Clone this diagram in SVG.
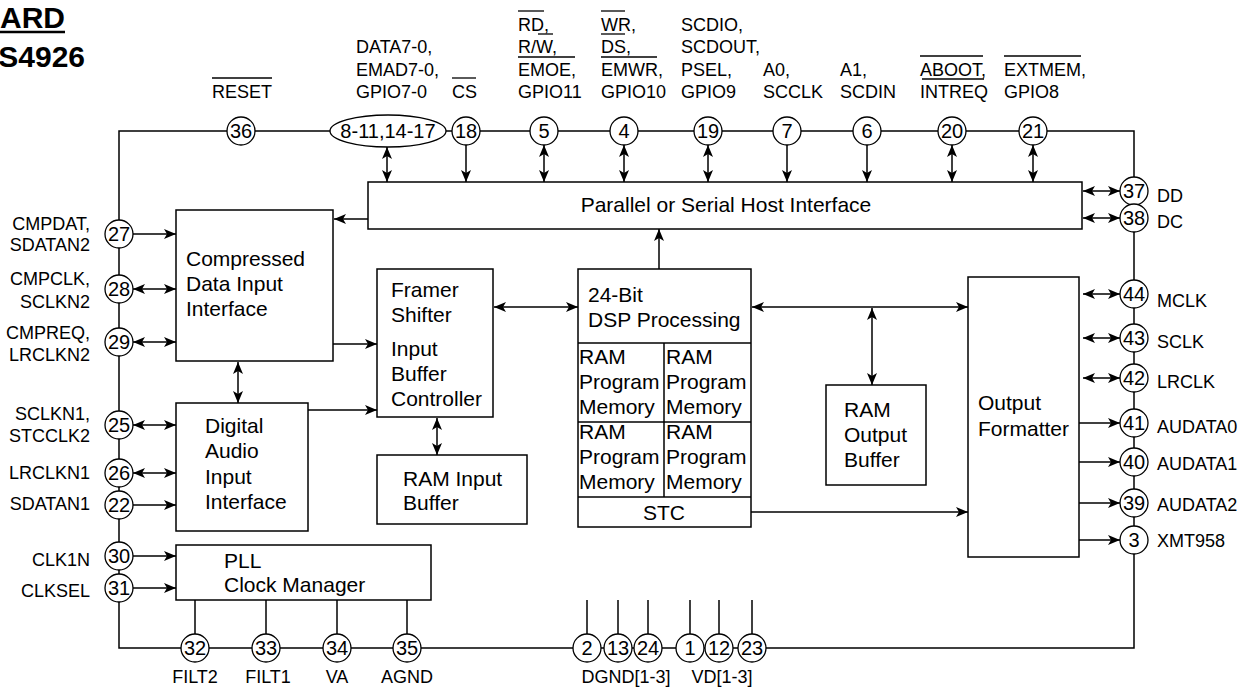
<svg xmlns="http://www.w3.org/2000/svg" width="1242" height="687" viewBox="0 0 1242 687">
<defs>
<marker id="ah" viewBox="0 0 12 10" refX="12" refY="5" markerWidth="12" markerHeight="10" markerUnits="userSpaceOnUse" orient="auto-start-reverse">
<path d="M0,0 L12,5 L0,10 L3,5 Z" fill="#000"/>
</marker>
<style>
text{font-family:"Liberation Sans",Arial,sans-serif;fill:#000}
.lbl{font-size:18px}
.blk{font-size:21px}
.num{font-size:20px;text-anchor:middle;dominant-baseline:central}
.ttl{font-size:30px;font-weight:bold;text-anchor:end}
.box{fill:#fff;stroke:#000;stroke-width:1.5}
.pin{fill:#fff;stroke:#000;stroke-width:1.3}
.w{stroke:#000;stroke-width:1.5;fill:none}
.one{marker-end:url(#ah)}
.two{marker-start:url(#ah);marker-end:url(#ah)}
.ov{stroke:#000;stroke-width:1.3}
.r{text-anchor:end}
.c{text-anchor:middle}
</style>
</defs>
<rect width="1242" height="687" fill="#fff"/>

<g id="title">
<text class="ttl" x="65" y="28">ARD</text>
<line x1="0" y1="32" x2="65" y2="32" stroke="#000" stroke-width="2.5"/>
<text class="ttl" x="85" y="67">S4926</text>
</g>

<g id="connectors">
<path class="w" d="M119,131 H1134 V648 H119 Z"/>
<line class="w two" x1="387" y1="147" x2="387" y2="182"/>
<line class="w one" x1="466" y1="145" x2="466" y2="182"/>
<line class="w two" x1="544" y1="145" x2="544" y2="182"/>
<line class="w two" x1="624" y1="145" x2="624" y2="182"/>
<line class="w two" x1="708" y1="145" x2="708" y2="182"/>
<line class="w one" x1="787" y1="145" x2="787" y2="182"/>
<line class="w one" x1="867" y1="145" x2="867" y2="182"/>
<line class="w two" x1="952" y1="145" x2="952" y2="182"/>
<line class="w two" x1="1033" y1="145" x2="1033" y2="182"/>
<line class="w two" x1="1083" y1="191" x2="1120" y2="191"/>
<line class="w two" x1="1083" y1="218" x2="1120" y2="218"/>
<line class="w one" x1="368" y1="219" x2="334" y2="219"/>
<line class="w one" x1="133" y1="234" x2="176" y2="234"/>
<line class="w two" x1="133" y1="289" x2="176" y2="289"/>
<line class="w two" x1="133" y1="342" x2="176" y2="342"/>
<line class="w two" x1="133" y1="425" x2="176" y2="425"/>
<line class="w two" x1="133" y1="473" x2="176" y2="473"/>
<line class="w one" x1="133" y1="505" x2="176" y2="505"/>
<line class="w one" x1="133" y1="556" x2="176" y2="556"/>
<line class="w one" x1="133" y1="588" x2="176" y2="588"/>
<line class="w two" x1="238" y1="362" x2="238" y2="403"/>
<line class="w one" x1="333" y1="344" x2="377" y2="344"/>
<line class="w one" x1="308" y1="410" x2="377" y2="410"/>
<line class="w two" x1="437" y1="418" x2="437" y2="455"/>
<line class="w two" x1="494" y1="307" x2="578" y2="307"/>
<line class="w one" x1="659" y1="269" x2="659" y2="229"/>
<line class="w two" x1="752" y1="307" x2="968" y2="307"/>
<line class="w two" x1="872" y1="308" x2="872" y2="385"/>
<line class="w one" x1="751" y1="512" x2="968" y2="512"/>
<line class="w two" x1="1083" y1="294" x2="1120" y2="294"/>
<line class="w two" x1="1083" y1="338" x2="1120" y2="338"/>
<line class="w two" x1="1083" y1="378" x2="1120" y2="378"/>
<line class="w one" x1="1079" y1="423" x2="1120" y2="423"/>
<line class="w one" x1="1079" y1="462" x2="1120" y2="462"/>
<line class="w one" x1="1079" y1="503" x2="1120" y2="503"/>
<line class="w one" x1="1079" y1="540" x2="1120" y2="540"/>
<line class="w" x1="195" y1="600" x2="195" y2="635"/>
<line class="w" x1="266" y1="600" x2="266" y2="635"/>
<line class="w" x1="337" y1="600" x2="337" y2="635"/>
<line class="w" x1="407" y1="600" x2="407" y2="635"/>
<line class="w" x1="587" y1="600" x2="587" y2="635"/>
<line class="w" x1="618" y1="600" x2="618" y2="635"/>
<line class="w" x1="648" y1="600" x2="648" y2="635"/>
<line class="w" x1="690" y1="600" x2="690" y2="635"/>
<line class="w" x1="719" y1="600" x2="719" y2="635"/>
<line class="w" x1="752" y1="600" x2="752" y2="635"/>
</g>

<g id="host">
<rect class="box" x="368" y="182" width="714" height="47"/>
<text class="blk c" x="726" y="212">Parallel or Serial Host Interface</text>
</g>
<g id="compressed">
<rect class="box" x="176" y="210" width="157" height="151"/>
<text class="blk" x="186" y="266">Compressed</text>
<text class="blk" x="186" y="291">Data Input</text>
<text class="blk" x="186" y="316">Interface</text>
</g>
<g id="digital">
<rect class="box" x="176" y="403" width="132" height="128"/>
<text class="blk" x="205" y="433">Digital</text>
<text class="blk" x="205" y="458">Audio</text>
<text class="blk" x="205" y="484">Input</text>
<text class="blk" x="205" y="509">Interface</text>
</g>
<g id="framer">
<rect class="box" x="377" y="269" width="116" height="148"/>
<text class="blk" x="391" y="297">Framer</text>
<text class="blk" x="391" y="322">Shifter</text>
<text class="blk" x="391" y="356">Input</text>
<text class="blk" x="391" y="381">Buffer</text>
<text class="blk" x="391" y="406">Controller</text>
</g>
<g id="raminput">
<rect class="box" x="377" y="455" width="150" height="69"/>
<text class="blk" x="403" y="486">RAM Input</text>
<text class="blk" x="403" y="510">Buffer</text>
</g>
<g id="dsp">
<rect class="box" x="578" y="269" width="173" height="258"/>
<line class="w" x1="578" y1="343" x2="751" y2="343"/>
<line class="w" x1="578" y1="422" x2="751" y2="422"/>
<line class="w" x1="578" y1="497" x2="751" y2="497"/>
<line class="w" x1="664" y1="343" x2="664" y2="497"/>
<text class="blk" x="588" y="302">24-Bit</text>
<text class="blk" x="588" y="327">DSP Processing</text>
<text class="blk" x="579" y="364">RAM</text>
<text class="blk" x="579" y="389">Program</text>
<text class="blk" x="579" y="414">Memory</text>
<text class="blk" x="666" y="364">RAM</text>
<text class="blk" x="666" y="389">Program</text>
<text class="blk" x="666" y="414">Memory</text>
<text class="blk" x="579" y="439">RAM</text>
<text class="blk" x="579" y="464">Program</text>
<text class="blk" x="579" y="489">Memory</text>
<text class="blk" x="666" y="439">RAM</text>
<text class="blk" x="666" y="464">Program</text>
<text class="blk" x="666" y="489">Memory</text>
<text class="blk c" x="664" y="520">STC</text>
</g>
<g id="ramoutput">
<rect class="box" x="826" y="385" width="100" height="100"/>
<text class="blk" x="844" y="417">RAM</text>
<text class="blk" x="844" y="442">Output</text>
<text class="blk" x="844" y="467">Buffer</text>
</g>
<g id="formatter">
<rect class="box" x="968" y="277" width="111" height="280"/>
<text class="blk" x="978" y="410">Output</text>
<text class="blk" x="978" y="436">Formatter</text>
</g>
<g id="pll">
<rect class="box" x="176" y="545" width="255" height="55"/>
<text class="blk" x="224" y="568">PLL</text>
<text class="blk" x="224" y="592">Clock Manager</text>
</g>

<g id="pins-top">
<circle class="pin" cx="241" cy="131" r="14"/><text class="num" x="241" y="131">36</text>
<ellipse class="pin" cx="388" cy="131" rx="58" ry="16"/><text class="num" x="388" y="131">8-11,14-17</text>
<circle class="pin" cx="466" cy="131" r="14"/><text class="num" x="466" y="131">18</text>
<circle class="pin" cx="544" cy="131" r="14"/><text class="num" x="544" y="131">5</text>
<circle class="pin" cx="624" cy="131" r="14"/><text class="num" x="624" y="131">4</text>
<circle class="pin" cx="708" cy="131" r="14"/><text class="num" x="708" y="131">19</text>
<circle class="pin" cx="787" cy="131" r="14"/><text class="num" x="787" y="131">7</text>
<circle class="pin" cx="867" cy="131" r="14"/><text class="num" x="867" y="131">6</text>
<circle class="pin" cx="952" cy="131" r="14"/><text class="num" x="952" y="131">20</text>
<circle class="pin" cx="1033" cy="131" r="14"/><text class="num" x="1033" y="131">21</text>
</g>
<g id="labels-top">
<text class="lbl" x="212" y="98">RESET</text>
<line class="ov" x1="212" y1="78" x2="272" y2="78"/>
<text class="lbl" x="356" y="53">DATA7-0,</text>
<text class="lbl" x="356" y="76">EMAD7-0,</text>
<text class="lbl" x="356" y="98">GPIO7-0</text>
<text class="lbl" x="452" y="98">CS</text>
<line class="ov" x1="452" y1="78" x2="476" y2="78"/>
<text class="lbl" x="518" y="31">RD,</text>
<line class="ov" x1="518" y1="11" x2="544" y2="11"/>
<text class="lbl" x="518" y="53">R/W,</text>
<line class="ov" x1="538" y1="34" x2="553" y2="34"/>
<text class="lbl" x="518" y="76">EMOE,</text>
<line class="ov" x1="518" y1="57" x2="575" y2="57"/>
<text class="lbl" x="518" y="98">GPIO11</text>
<text class="lbl" x="601" y="31">WR,</text>
<line class="ov" x1="601" y1="11" x2="625" y2="11"/>
<text class="lbl" x="601" y="53">DS,</text>
<line class="ov" x1="601" y1="34" x2="625" y2="34"/>
<text class="lbl" x="601" y="76">EMWR,</text>
<line class="ov" x1="601" y1="57" x2="657" y2="57"/>
<text class="lbl" x="601" y="98">GPIO10</text>
<text class="lbl" x="681" y="31">SCDIO,</text>
<text class="lbl" x="681" y="53">SCDOUT,</text>
<text class="lbl" x="681" y="76">PSEL,</text>
<text class="lbl" x="681" y="98">GPIO9</text>
<text class="lbl" x="763" y="76">A0,</text>
<text class="lbl" x="763" y="98">SCCLK</text>
<text class="lbl" x="840" y="76">A1,</text>
<text class="lbl" x="840" y="98">SCDIN</text>
<text class="lbl" x="920" y="76">ABOOT,</text>
<line class="ov" x1="920" y1="56" x2="983" y2="56"/>
<text class="lbl" x="920" y="98">INTREQ</text>
<line class="ov" x1="922" y1="79" x2="984" y2="79"/>
<text class="lbl" x="1004" y="76">EXTMEM,</text>
<line class="ov" x1="1004" y1="56" x2="1081" y2="56"/>
<text class="lbl" x="1004" y="98">GPIO8</text>
</g>

<g id="pins-left">
<circle class="pin" cx="119" cy="234" r="14"/><text class="num" x="119" y="234">27</text>
<circle class="pin" cx="119" cy="289" r="14"/><text class="num" x="119" y="289">28</text>
<circle class="pin" cx="119" cy="342" r="14"/><text class="num" x="119" y="342">29</text>
<circle class="pin" cx="119" cy="425" r="14"/><text class="num" x="119" y="425">25</text>
<circle class="pin" cx="119" cy="473" r="14"/><text class="num" x="119" y="473">26</text>
<circle class="pin" cx="119" cy="505" r="14"/><text class="num" x="119" y="505">22</text>
<circle class="pin" cx="119" cy="556" r="14"/><text class="num" x="119" y="556">30</text>
<circle class="pin" cx="119" cy="588" r="14"/><text class="num" x="119" y="588">31</text>
</g>
<g id="labels-left">
<text class="lbl r" x="90" y="230">CMPDAT,</text>
<text class="lbl r" x="90" y="251">SDATAN2</text>
<text class="lbl r" x="90" y="285">CMPCLK,</text>
<text class="lbl r" x="90" y="308">SCLKN2</text>
<text class="lbl r" x="90" y="339">CMPREQ,</text>
<text class="lbl r" x="90" y="361">LRCLKN2</text>
<text class="lbl r" x="90" y="420">SCLKN1,</text>
<text class="lbl r" x="90" y="442">STCCLK2</text>
<text class="lbl r" x="90" y="479">LRCLKN1</text>
<text class="lbl r" x="90" y="510">SDATAN1</text>
<text class="lbl r" x="90" y="566">CLK1N</text>
<text class="lbl r" x="90" y="597">CLKSEL</text>
</g>

<g id="pins-right">
<circle class="pin" cx="1134" cy="191" r="14"/><text class="num" x="1134" y="191">37</text>
<circle class="pin" cx="1134" cy="218" r="14"/><text class="num" x="1134" y="218">38</text>
<circle class="pin" cx="1134" cy="294" r="14"/><text class="num" x="1134" y="294">44</text>
<circle class="pin" cx="1134" cy="338" r="14"/><text class="num" x="1134" y="338">43</text>
<circle class="pin" cx="1134" cy="378" r="14"/><text class="num" x="1134" y="378">42</text>
<circle class="pin" cx="1134" cy="423" r="14"/><text class="num" x="1134" y="423">41</text>
<circle class="pin" cx="1134" cy="462" r="14"/><text class="num" x="1134" y="462">40</text>
<circle class="pin" cx="1134" cy="503" r="14"/><text class="num" x="1134" y="503">39</text>
<circle class="pin" cx="1134" cy="540" r="14"/><text class="num" x="1134" y="540">3</text>
</g>
<g id="labels-right">
<text class="lbl" x="1157" y="202">DD</text>
<text class="lbl" x="1157" y="228">DC</text>
<text class="lbl" x="1157" y="307">MCLK</text>
<text class="lbl" x="1157" y="348">SCLK</text>
<text class="lbl" x="1157" y="388">LRCLK</text>
<text class="lbl" x="1157" y="433">AUDATA0</text>
<text class="lbl" x="1157" y="470">AUDATA1</text>
<text class="lbl" x="1157" y="511">AUDATA2</text>
<text class="lbl" x="1157" y="547">XMT958</text>
</g>

<g id="pins-bottom">
<circle class="pin" cx="195" cy="648" r="14"/><text class="num" x="195" y="648">32</text>
<circle class="pin" cx="266" cy="648" r="14"/><text class="num" x="266" y="648">33</text>
<circle class="pin" cx="337" cy="648" r="14"/><text class="num" x="337" y="648">34</text>
<circle class="pin" cx="407" cy="648" r="14"/><text class="num" x="407" y="648">35</text>
<circle class="pin" cx="587" cy="648" r="14"/><text class="num" x="587" y="648">2</text>
<circle class="pin" cx="618" cy="648" r="14"/><text class="num" x="618" y="648">13</text>
<circle class="pin" cx="648" cy="648" r="14"/><text class="num" x="648" y="648">24</text>
<circle class="pin" cx="690" cy="648" r="14"/><text class="num" x="690" y="648">1</text>
<circle class="pin" cx="719" cy="648" r="14"/><text class="num" x="719" y="648">12</text>
<circle class="pin" cx="752" cy="648" r="14"/><text class="num" x="752" y="648">23</text>
</g>
<g id="labels-bottom">
<text class="lbl c" x="195" y="683">FILT2</text>
<text class="lbl c" x="268" y="683">FILT1</text>
<text class="lbl c" x="337" y="683">VA</text>
<text class="lbl c" x="407" y="683">AGND</text>
<text class="lbl c" x="626" y="683">DGND[1-3]</text>
<text class="lbl c" x="722" y="683">VD[1-3]</text>
</g>
</svg>
